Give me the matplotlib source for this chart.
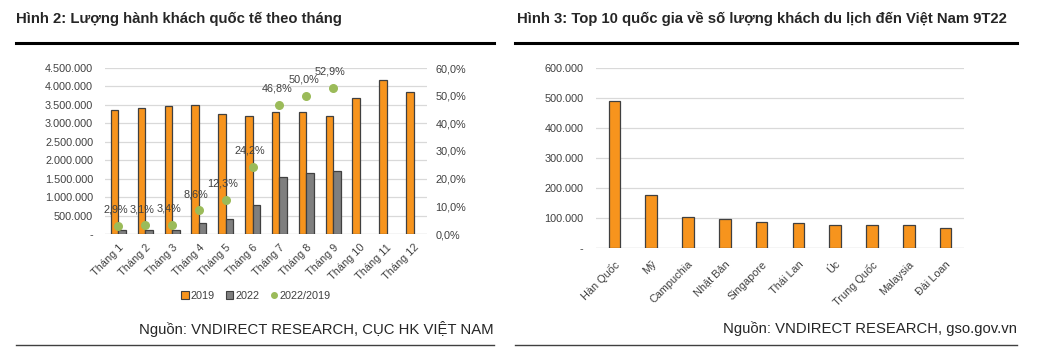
import matplotlib
matplotlib.use("Agg")
import matplotlib.pyplot as plt
import numpy as np
from matplotlib.ticker import FuncFormatter, MultipleLocator
from matplotlib.lines import Line2D
from matplotlib.patches import Patch

plt.rcParams['font.family'] = ['Liberation Sans', 'DejaVu Sans']

months = ["Tháng 1", "Tháng 2", "Tháng 3", "Tháng 4", "Tháng 5", "Tháng 6",
          "Tháng 7", "Tháng 8", "Tháng 9", "Tháng 10", "Tháng 11", "Tháng 12"]
pax_2019 = [3370000, 3420000, 3460000, 3500000, 3250000, 3210000,
            3310000, 3300000, 3210000, 3700000, 4180000, 3840000]
pax_2022 = [98000, 106000, 118000, 301000, 400000, 777000,
            1550000, 1650000, 1700000]
ratio = [2.9, 3.1, 3.4, 8.6, 12.3, 24.2, 46.8, 50.0, 52.9]

countries = ["Hàn Quốc", "Mỹ", "Campuchia", "Nhật Bản", "Singapore",
             "Thái Lan", "Úc", "Trung Quốc", "Malaysia", "Đài Loan"]
visitors = [491000, 176000, 103000, 96000, 87000, 82000, 78000, 76000, 76000, 66000]

ORANGE = "#F7941D"
GRAY = "#7F7F7F"
EDGE = "#404040"
GREEN = "#9BBB59"
GRID = "#D9D9D9"
TXT = "#404040"

W, H = 1037, 354
fig = plt.figure(figsize=(W / 100, H / 100), dpi=100)


def px_axes(x0, y0, x1, y1):
    return fig.add_axes([x0 / W, 1 - y1 / H, (x1 - x0) / W, (y1 - y0) / H])


def thousands(v, pos):
    if v == 0:
        return "-"
    return f"{int(round(v)):,}".replace(",", ".")


def pct(v, pos):
    return f"{v:.1f}%".replace(".", ",")


# header/footer decorations
fig.text(16 / W, 1 - 19 / H, "Hình 2: Lượng hành khách quốc tế theo tháng",
         fontsize=10.7, fontweight='bold', color="#262626", va='center', ha='left')
fig.text(517 / W, 1 - 19 / H, "Hình 3: Top 10 quốc gia về số lượng khách du lịch đến Việt Nam 9T22",
         fontsize=10.7, fontweight='bold', color="#262626", va='center', ha='left')
for (xa, xb) in [(16, 494), (515, 1017)]:
    fig.add_artist(Line2D([xa / W, xb / W], [1 - 43 / H, 1 - 43 / H], color="black", lw=2.2))
    fig.add_artist(Line2D([xa / W, xb / W], [1 - 345 / H, 1 - 345 / H], color="#404040", lw=1.0))
fig.text(494 / W, 1 - 329 / H, "Nguồn: VNDIRECT RESEARCH, CỤC HK VIỆT NAM",
         fontsize=10.7, color="#262626", ha='right', va='center')
fig.text(1017 / W, 1 - 329 / H, "Nguồn: VNDIRECT RESEARCH, gso.gov.vn",
         fontsize=10.7, color="#262626", ha='right', va='center')

# ---- Left chart ----
ax = px_axes(105, 68, 427, 234)
x = np.arange(len(months))
bw = 0.28
ax.bar(x - bw / 2, pax_2019, width=bw, color=ORANGE, edgecolor=EDGE, linewidth=0.9, zorder=3)
ax.bar(x[:len(pax_2022)] + bw / 2, pax_2022, width=bw, color=GRAY, edgecolor=EDGE, linewidth=0.9, zorder=3)
ax.set_xlim(-0.5, len(months) - 0.5)
ax.set_ylim(0, 4500000)
ax.yaxis.set_major_locator(MultipleLocator(500000))
ax.yaxis.set_major_formatter(FuncFormatter(thousands))
ax.grid(axis='y', color=GRID, lw=0.9, zorder=0)
for s in ax.spines.values():
    s.set_visible(False)
ax.tick_params(axis='both', length=0, labelsize=7.8, colors=TXT)
ax.tick_params(axis='y', pad=8.5)
ax.tick_params(axis='x', pad=6)
ax.set_xticks(x)
ax.set_xticklabels(months, rotation=45, ha='right', rotation_mode='anchor')
ax.axhline(0, color=GRID, lw=0.9, zorder=1)

ax2 = ax.twinx()
ax2.set_ylim(0, 60)
ax2.yaxis.set_major_locator(MultipleLocator(10))
ax2.yaxis.set_major_formatter(FuncFormatter(pct))
for s in ax2.spines.values():
    s.set_visible(False)
ax2.tick_params(axis='y', length=0, labelsize=7.8, colors=TXT, pad=6)
ax2.scatter(x[:len(ratio)], ratio, s=30, color=GREEN, zorder=5)
for xi, r in zip(x[:len(ratio)], ratio):
    ax2.annotate(f"{r:.1f}%".replace(".", ","), (xi, r), xytext=(-2, 8),
                 textcoords='offset points', ha='center', va='bottom',
                 fontsize=7.8, color=TXT)

handles = [Patch(facecolor=ORANGE, edgecolor=EDGE, lw=0.8, label="2019"),
           Patch(facecolor=GRAY, edgecolor=EDGE, lw=0.8, label="2022"),
           Line2D([], [], marker='o', ls='', color=GREEN, markersize=4, label="2022/2019")]
fig.legend(handles=handles, loc='center', bbox_to_anchor=(256 / W, 1 - 296 / H),
           ncol=3, frameon=False, fontsize=7.8, handlelength=0.7, handleheight=0.7,
           handletextpad=0.2, columnspacing=1.0, labelcolor=TXT)

# ---- Right chart ----
bx = px_axes(596, 68, 964, 248)
xc = np.arange(len(countries))
bx.bar(xc, visitors, width=0.32, color=ORANGE, edgecolor=EDGE, linewidth=0.9, zorder=3)
bx.set_xlim(-0.5, len(countries) - 0.5)
bx.set_ylim(0, 600000)
bx.yaxis.set_major_locator(MultipleLocator(100000))
bx.yaxis.set_major_formatter(FuncFormatter(thousands))
bx.grid(axis='y', color=GRID, lw=0.9, zorder=0)
for s in bx.spines.values():
    s.set_visible(False)
bx.tick_params(axis='both', length=0, labelsize=7.8, colors=TXT)
bx.tick_params(axis='y', pad=9)
bx.tick_params(axis='x', pad=8)
bx.set_xticks(xc)
bx.set_xticklabels(countries, rotation=45, ha='right', rotation_mode='anchor')
bx.axhline(0, color=GRID, lw=0.9, zorder=1)

fig.savefig("out.png", dpi=100, facecolor="white")
